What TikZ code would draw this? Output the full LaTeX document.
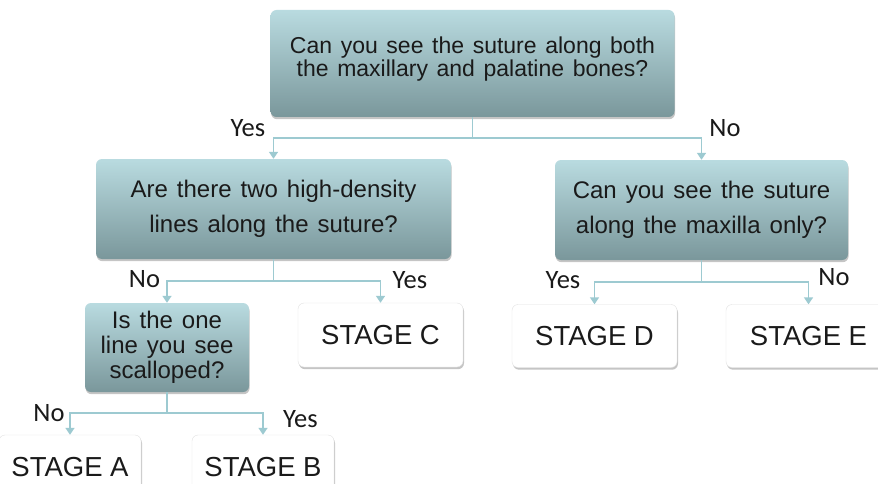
\documentclass[tikz,border=0pt]{standalone}
\usepackage{fontspec}
\setmainfont{Liberation Sans}
\newfontfamily\questionfont{Liberation Sans}[WordSpace=1.35]
\newfontfamily\answerfont{Carlito}
\usetikzlibrary{positioning,calc,arrows.meta,shadows}
\definecolor{qtop}{HTML}{B9DBE0}
\definecolor{qbot}{HTML}{7A979B}
\definecolor{linkcol}{HTML}{9DCAD1}
\definecolor{stageline}{HTML}{E2E2E2}
\definecolor{inkcol}{HTML}{1A1A1A}
\tikzstyle{question} = [ rectangle, rounded corners = 6pt, top color = qtop, bottom color = qbot, inner sep = 0pt, align = center, text = inkcol, drop shadow={opacity=0.45,shadow xshift=0.6pt,shadow yshift=-2.2pt} ]
\tikzstyle{stage} = [ draw = stageline, rectangle, rounded corners = 6pt, fill = white, inner sep = 0pt, text = inkcol, font = \fontsize{27.5}{30}\selectfont, drop shadow={opacity=0.45,shadow xshift=1pt,shadow yshift=-2.2pt} ]
\tikzstyle{answer} = [ inner sep = 0pt, anchor = base, text = inkcol, font = \answerfont\fontsize{26.5}{28}\selectfont ]
\tikzstyle{edge} = [ -{Triangle[width=9pt,length=7pt]}, draw = linkcol, line width = 1.6pt ]

\begin{document}
\begin{tikzpicture}[x=1pt, y=-1pt]
	\useasboundingbox[fill=white] (0,0) rectangle (878,484);

	\node[question, minimum width=404pt, minimum height=107pt, text depth=14pt, font=\questionfont\fontsize{23}{22.5}\selectfont] (q1) at ( 472.5, 63.5 ) {Can you see the suture along both\\ the maxillary and palatine bones?};
	\node[question, minimum width=355pt, minimum height=100pt, font=\questionfont\fontsize{24}{35.5}\selectfont] (q2) at ( 273.5, 209 ) {Are there two high-density\\ lines along the suture?};
	\node[question, minimum width=293pt, minimum height=100pt, font=\questionfont\fontsize{24}{35}\selectfont] (q3) at ( 701.5, 210 ) {Can you see the suture\\ along the maxilla only?};
	\node[question, minimum width=164pt, minimum height=89pt, font=\questionfont\fontsize{24}{25}\selectfont] (q4) at ( 167, 347.5 ) {Is the one\\ line you see\\ scalloped?};

	\node[stage, minimum width=142pt, minimum height=64pt] (sa) at ( 70, 467 ) {STAGE A};
	\node[stage, minimum width=142pt, minimum height=64pt] (sb) at ( 263, 467 ) {STAGE B};
	\node[stage, minimum width=165pt, minimum height=64pt] (sc) at ( 380.5, 335 ) {STAGE C};
	\node[stage, minimum width=165pt, minimum height=63pt] (sd) at ( 594.5, 336 ) {STAGE D};
	\node[stage, minimum width=165pt, minimum height=63pt] (se) at ( 808.5, 336 ) {STAGE E};

	\draw[edge] (q1.south) -- ++(0,21) -| (q2.north);
	\draw[edge] (q1.south) -- ++(0,21) -| (q3.north);
	\draw[edge] (q2.south) -- ++(0,22) -| (q4.north);
	\draw[edge] (q2.south) -- ++(0,22) -| (sc.north);
	\draw[edge] (q3.south) -- ++(0,22) -| (sd.north);
	\draw[edge] (q3.south) -- ++(0,22) -| (se.north);
	\draw[edge] (q4.south) -- ++(0,21) -| (sa.north);
	\draw[edge] (q4.south) -- ++(0,21) -| (sb.north);

	\node[answer] (yes1) at ( 248, 137 ) {Yes};
	\node[answer] (no1) at ( 725, 137 ) {No};
	\node[answer] (no2) at ( 144.5, 287 ) {No};
	\node[answer] (yes2) at ( 410, 288 ) {Yes};
	\node[answer] (yes3) at ( 563, 288 ) {Yes};
	\node[answer] (no3) at ( 834, 285 ) {No};
	\node[answer] (no4) at ( 49, 421 ) {No};
	\node[answer] (yes4) at ( 300.5, 427 ) {Yes};
\end{tikzpicture}
\end{document}
